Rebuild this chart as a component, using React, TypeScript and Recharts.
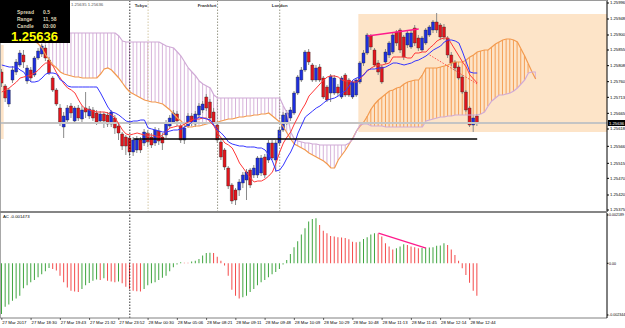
import React from "react";
import {
  Bar,
  Cell,
  ComposedChart,
  Line,
  ReferenceArea,
  ReferenceLine,
  XAxis,
  YAxis,
} from "recharts";

const FONT = "'Liberation Sans', Arial, sans-serif";

// candles, one per bar (131 bars)
const OPEN = [
  1.25789, 1.25747, 1.25693, 1.25765, 1.25789, 1.2581, 1.2584, 1.25762, 1.25795, 1.2578,
  1.25831, 1.25843, 1.25861, 1.25825, 1.25771, 1.25735, 1.25681, 1.25624, 1.25645, 1.25687,
  1.25642, 1.25681, 1.25648, 1.25681, 1.25657, 1.25675, 1.25666, 1.25642, 1.25663, 1.2566,
  1.25633, 1.25651, 1.25627, 1.25603, 1.25594, 1.25591, 1.25549, 1.25555, 1.25585, 1.25576,
  1.25606, 1.25594, 1.25576, 1.25612, 1.25594, 1.256, 1.25627, 1.25639, 1.25663, 1.25627,
  1.25585, 1.25627, 1.25657, 1.25633, 1.2566, 1.25675, 1.25714, 1.25699, 1.25669, 1.2563,
  1.25579, 1.25555, 1.25501, 1.2545, 1.25435, 1.25435, 1.25456, 1.25465, 1.25495, 1.2548,
  1.2548, 1.25486, 1.25534, 1.25525, 1.25576, 1.25525, 1.25576, 1.25615, 1.25636, 1.25651,
  1.25666, 1.25726, 1.25765, 1.25795, 1.25849, 1.2581, 1.25765, 1.25804, 1.25771, 1.25744,
  1.25726, 1.25726, 1.25744, 1.25714, 1.2578, 1.25765, 1.25714, 1.2572, 1.25759, 1.25816,
  1.25846, 1.25897, 1.25855, 1.25816, 1.25804, 1.25819, 1.2584, 1.25849, 1.25909, 1.25915,
  1.25894, 1.2587, 1.25864, 1.25921, 1.25891, 1.25855, 1.25876, 1.259, 1.25915, 1.25939,
  1.2593, 1.25924, 1.25891, 1.2584, 1.25819, 1.25804, 1.25774, 1.25729, 1.25681, 1.2563,
  1.25657,
];
const HIGH = [
  1.25798, 1.25753, 1.25741, 1.25807, 1.25828, 1.25855, 1.25855, 1.2581, 1.25804, 1.25837,
  1.25861, 1.25873, 1.2587, 1.25834, 1.25777, 1.25741, 1.25693, 1.25669, 1.2569, 1.25696,
  1.25687, 1.2569, 1.25687, 1.25729, 1.25687, 1.25684, 1.25675, 1.25672, 1.25669, 1.25669,
  1.25675, 1.2566, 1.25636, 1.25609, 1.256, 1.25597, 1.25594, 1.25597, 1.25594, 1.25618,
  1.25615, 1.25606, 1.25624, 1.25621, 1.25606, 1.25645, 1.2566, 1.25675, 1.25672, 1.25639,
  1.2563, 1.25666, 1.25666, 1.25672, 1.25696, 1.25702, 1.25723, 1.25708, 1.25681, 1.25639,
  1.25585, 1.25561, 1.25507, 1.25456, 1.25441, 1.25468, 1.25489, 1.25498, 1.25501, 1.2551,
  1.25537, 1.2554, 1.25543, 1.25585, 1.25585, 1.25585, 1.25624, 1.25669, 1.25675, 1.25684,
  1.25732, 1.2578, 1.25804, 1.25855, 1.25858, 1.25816, 1.2581, 1.25813, 1.25777, 1.2575,
  1.25783, 1.2578, 1.25753, 1.25777, 1.25786, 1.25771, 1.25765, 1.25771, 1.25822, 1.25855,
  1.25906, 1.25903, 1.25861, 1.25825, 1.2581, 1.25858, 1.25882, 1.25906, 1.25915, 1.25921,
  1.259, 1.25912, 1.25915, 1.2593, 1.259, 1.25897, 1.25921, 1.2593, 1.25945, 1.25966,
  1.25936, 1.25933, 1.25897, 1.25849, 1.25825, 1.2581, 1.2578, 1.25735, 1.25687, 1.2566,
  1.25663,
];
const LOW = [
  1.25744, 1.25699, 1.25684, 1.25756, 1.2578, 1.25804, 1.25801, 1.25753, 1.25759, 1.25774,
  1.25825, 1.25834, 1.25822, 1.2578, 1.25729, 1.25687, 1.25627, 1.25591, 1.25636, 1.25651,
  1.25633, 1.25642, 1.25639, 1.25651, 1.25648, 1.25642, 1.2563, 1.25633, 1.25621, 1.25624,
  1.25624, 1.25603, 1.25585, 1.25555, 1.2554, 1.25537, 1.25537, 1.25546, 1.25546, 1.25567,
  1.25564, 1.25561, 1.25567, 1.2557, 1.25555, 1.25591, 1.25621, 1.25633, 1.25627, 1.25576,
  1.25573, 1.25621, 1.25627, 1.25624, 1.25651, 1.25666, 1.25672, 1.25642, 1.2563, 1.25576,
  1.25525, 1.25495, 1.25438, 1.25393, 1.2539, 1.25417, 1.25441, 1.25405, 1.25441, 1.25471,
  1.25471, 1.25477, 1.25471, 1.25516, 1.25525, 1.25489, 1.25567, 1.25609, 1.2563, 1.25642,
  1.2566, 1.2572, 1.25759, 1.25789, 1.2581, 1.25759, 1.25759, 1.25759, 1.25708, 1.25699,
  1.25699, 1.2572, 1.25717, 1.25708, 1.25714, 1.25714, 1.25708, 1.25714, 1.25753, 1.25807,
  1.2584, 1.25855, 1.25804, 1.2578, 1.25753, 1.25813, 1.25831, 1.25843, 1.25867, 1.25846,
  1.25825, 1.25861, 1.25858, 1.25867, 1.25852, 1.25849, 1.2587, 1.25894, 1.25906, 1.25906,
  1.25885, 1.25885, 1.25831, 1.25807, 1.25792, 1.25765, 1.25723, 1.25669, 1.25624, 1.25609,
  1.25627,
];
const CLOSE = [
  1.25756, 1.25711, 1.25735, 1.25795, 1.25819, 1.25846, 1.25819, 1.25801, 1.25771, 1.25831,
  1.25852, 1.25867, 1.25831, 1.25786, 1.25735, 1.25693, 1.25639, 1.25657, 1.25681, 1.25666,
  1.25681, 1.25651, 1.25675, 1.25669, 1.25678, 1.25651, 1.25639, 1.25663, 1.25642, 1.25633,
  1.25669, 1.25621, 1.25606, 1.25567, 1.25567, 1.25549, 1.25585, 1.25588, 1.25555, 1.25609,
  1.25579, 1.2557, 1.25615, 1.25582, 1.25576, 1.25636, 1.25651, 1.25666, 1.25642, 1.25585,
  1.25621, 1.25657, 1.25636, 1.25663, 1.25687, 1.25693, 1.25681, 1.25651, 1.25639, 1.25585,
  1.25534, 1.25504, 1.25447, 1.25402, 1.25405, 1.25459, 1.2548, 1.25489, 1.2545, 1.25501,
  1.25531, 1.25531, 1.2548, 1.25576, 1.25531, 1.25576, 1.25615, 1.2566, 1.25666, 1.25675,
  1.25726, 1.25774, 1.25795, 1.25849, 1.25819, 1.25765, 1.25801, 1.25765, 1.25714, 1.25705,
  1.25777, 1.25771, 1.25726, 1.25771, 1.2572, 1.2572, 1.25759, 1.25765, 1.25816, 1.25846,
  1.259, 1.25864, 1.2581, 1.25789, 1.25759, 1.25849, 1.25876, 1.259, 1.25876, 1.25855,
  1.25834, 1.25906, 1.25906, 1.25876, 1.25861, 1.25891, 1.25915, 1.25924, 1.25939, 1.25915,
  1.25894, 1.25894, 1.2584, 1.25816, 1.25801, 1.25771, 1.25729, 1.25675, 1.2563, 1.25651,
  1.25636,
];

// ichimoku
const TENKAN = [
  1.25729, 1.25735, 1.25741, 1.2575, 1.25759, 1.25771, 1.25774, 1.25777, 1.2578, 1.25786,
  1.25795, 1.25807, 1.25816, 1.25816, 1.25807, 1.25786, 1.25771, 1.25753, 1.25741, 1.25735,
  1.25726, 1.25705, 1.25687, 1.25678, 1.25675, 1.25672, 1.25669, 1.25669, 1.25669, 1.25666,
  1.2566, 1.25651, 1.25633, 1.25615, 1.25603, 1.256, 1.25603, 1.25606, 1.25603, 1.256,
  1.256, 1.256, 1.25597, 1.25594, 1.256, 1.25612, 1.25621, 1.25624, 1.25627, 1.25627,
  1.25633, 1.25639, 1.25645, 1.25648, 1.25648, 1.25651, 1.25651, 1.25639, 1.25627, 1.25606,
  1.25591, 1.25576, 1.2557, 1.25561, 1.2554, 1.25516, 1.25501, 1.25486, 1.25471, 1.25459,
  1.25462, 1.25462, 1.25468, 1.25477, 1.25489, 1.25516, 1.25549, 1.25576, 1.25594, 1.25609,
  1.25633, 1.25654, 1.25675, 1.25693, 1.25717, 1.25729, 1.25741, 1.25753, 1.25765, 1.25774,
  1.25777, 1.25777, 1.25774, 1.25765, 1.25762, 1.25762, 1.25759, 1.25759, 1.25768, 1.25783,
  1.25792, 1.25801, 1.25807, 1.2581, 1.2581, 1.25813, 1.25816, 1.25834, 1.25834, 1.25834,
  1.25834, 1.25831, 1.25831, 1.25846, 1.25846, 1.25849, 1.25849, 1.25861, 1.2587, 1.25882,
  1.25888, 1.25891, 1.25891, 1.25873, 1.25855, 1.25837, 1.25819, 1.25804, 1.2578, 1.25768,
  1.25756,
];
const KIJUN = [
  1.2581, 1.25807, 1.25804, 1.25804, 1.25804, 1.25795, 1.25789, 1.25771, 1.25759, 1.25759,
  1.25762, 1.25771, 1.25783, 1.25786, 1.25786, 1.25783, 1.25765, 1.25759, 1.25747, 1.25744,
  1.25744, 1.25744, 1.25744, 1.25744, 1.25744, 1.25744, 1.25744, 1.25726, 1.25705, 1.25684,
  1.25669, 1.25666, 1.2566, 1.25651, 1.25642, 1.25639, 1.25642, 1.25642, 1.25645, 1.25645,
  1.25621, 1.25618, 1.25615, 1.25612, 1.25609, 1.25609, 1.25612, 1.25615, 1.25615, 1.25618,
  1.25624, 1.2563, 1.25639, 1.25648, 1.25654, 1.25651, 1.25648, 1.25645, 1.2563, 1.25615,
  1.25606, 1.25594, 1.25579, 1.25573, 1.2557, 1.25567, 1.25567, 1.25564, 1.25564, 1.25564,
  1.25561, 1.25561, 1.25555, 1.2554, 1.25522, 1.25492, 1.25495, 1.2551, 1.25531, 1.25549,
  1.25573, 1.25606, 1.2563, 1.25654, 1.25663, 1.25672, 1.25681, 1.25687, 1.25696, 1.25705,
  1.25708, 1.25711, 1.25717, 1.25726, 1.25732, 1.25747, 1.25765, 1.25771, 1.25774, 1.2578,
  1.25795, 1.25798, 1.25798, 1.25801, 1.25801, 1.25804, 1.2581, 1.25816, 1.25816, 1.25813,
  1.2581, 1.25813, 1.25816, 1.25822, 1.25825, 1.25831, 1.25837, 1.25846, 1.25855, 1.25861,
  1.25867, 1.25879, 1.25885, 1.25885, 1.25882, 1.25876, 1.25849, 1.25819, 1.25789, 1.25786,
  1.25786,
];
// senkou spans, shifted forward past the last bar
const SPAN_A = [
  1.2593, 1.2593, 1.25927, 1.25924, 1.25921, 1.25915, 1.25909, 1.259, 1.25891, 1.25882,
  1.25873, 1.25861, 1.2584, 1.25825, 1.2581, 1.25801, 1.25789, 1.25783, 1.2578, 1.25777,
  1.25774, 1.25774, 1.25771, 1.25771, 1.25771, 1.25771, 1.25771, 1.25783, 1.25798, 1.25801,
  1.25795, 1.25783, 1.25771, 1.25756, 1.25741, 1.25729, 1.25723, 1.25717, 1.25711, 1.25705,
  1.25702, 1.25699, 1.25699, 1.25696, 1.25693, 1.25684, 1.25675, 1.25663, 1.25651, 1.25642,
  1.2563, 1.25624, 1.25624, 1.25627, 1.25627, 1.2563, 1.25633, 1.25636, 1.25636, 1.25639,
  1.25642, 1.25645, 1.25648, 1.25648, 1.25651, 1.25654, 1.25654, 1.25657, 1.25657, 1.2566,
  1.2566, 1.25663, 1.25663, 1.25666, 1.25657, 1.25648, 1.25639, 1.25624, 1.25606, 1.25588,
  1.25573, 1.25567, 1.25561, 1.25555, 1.25546, 1.2554, 1.25534, 1.25528, 1.25522, 1.25513,
  1.25501, 1.25501, 1.25525, 1.2554, 1.25555, 1.25573, 1.25591, 1.25612, 1.25627, 1.25639,
  1.25657, 1.25678, 1.25693, 1.25705, 1.25714, 1.25723, 1.25732, 1.25735, 1.25741, 1.25744,
  1.25753, 1.25759, 1.25762, 1.25765, 1.25765, 1.2578, 1.25801, 1.25801, 1.25801, 1.25801,
  1.25804, 1.25807, 1.2581, 1.25816, 1.25819, 1.25819, 1.25819, 1.25825, 1.25834, 1.2584,
  1.25849, 1.25852, 1.25855, 1.25855, 1.25864, 1.25873, 1.25879, 1.25885, 1.25888, 1.25888,
  1.25885, 1.25879, 1.25858, 1.25837, 1.25813, 1.25789, 1.25768,
];
const SPAN_B = [
  1.25945, 1.25945, 1.25945, 1.25945, 1.25945, 1.25945, 1.25945, 1.25945, 1.25945, 1.25945,
  1.25945, 1.25906, 1.25906, 1.25906, 1.25906, 1.25906, 1.25906, 1.25906, 1.25906, 1.25906,
  1.25906, 1.25906, 1.25906, 1.25906, 1.25906, 1.25906, 1.25906, 1.25906, 1.25906, 1.25906,
  1.25906, 1.25906, 1.25897, 1.25882, 1.25879, 1.25879, 1.25879, 1.25879, 1.25879, 1.25879,
  1.25879, 1.25879, 1.25879, 1.25879, 1.25873, 1.25867, 1.25864, 1.25861, 1.25849, 1.25837,
  1.25819, 1.25801, 1.25789, 1.25777, 1.25762, 1.25753, 1.25747, 1.25741, 1.2572, 1.25711,
  1.25711, 1.25711, 1.25711, 1.25711, 1.25711, 1.25711, 1.25711, 1.25711, 1.25711, 1.25711,
  1.25711, 1.25711, 1.25711, 1.25711, 1.25711, 1.25711, 1.25711, 1.25687, 1.25666, 1.25609,
  1.25588, 1.25582, 1.25579, 1.25576, 1.25576, 1.25573, 1.25573, 1.2557, 1.2557, 1.2557,
  1.2557, 1.2557, 1.2557, 1.2557, 1.2557, 1.25576, 1.25588, 1.25612, 1.2563, 1.25633,
  1.25633, 1.25627, 1.25627, 1.25627, 1.25627, 1.25624, 1.25624, 1.25624, 1.25624, 1.25624,
  1.25624, 1.25624, 1.25624, 1.25624, 1.25624, 1.25624, 1.25642, 1.25645, 1.25648, 1.25651,
  1.25654, 1.25654, 1.25657, 1.25657, 1.2566, 1.2566, 1.2566, 1.2566, 1.2566, 1.2566,
  1.2566, 1.25663, 1.25669, 1.25687, 1.25702, 1.25711, 1.2572, 1.2572, 1.25723, 1.25726,
  1.25732, 1.25741, 1.25753, 1.25765, 1.25786, 1.25789, 1.25789,
];

// accelerator oscillator
const AC = [
  -0.0023, -0.00197, -0.00187, -0.0017, -0.0016, -0.00147, -0.00113, -0.001, -0.00086, -0.00076,
  -0.00063, -0.0005, -0.00036, -0.00021, -0.00026, -0.00033, -0.00056, -0.00086, -0.0011, -0.00124,
  -0.00128, -0.0013, -0.00116, -0.001, -0.00089, -0.00079, -0.00074, -0.00076, -0.00068, -0.00079,
  -0.00082, -0.00086, -0.00082, -0.0009, -0.00106, -0.00116, -0.00124, -0.00127, -0.00128, -0.00116,
  -0.001, -0.0009, -0.00086, -0.00076, -0.00066, -0.00056, -0.00036, -0.00018, -0.00006, 0.00005,
  0.00003, 0.00002, 0.00008, 0.00012, 0.0002, 0.00035, 0.00047, 0.00048, 0.00047, 0.0003,
  0.00012, -0.0001, -0.00056, -0.0012, -0.00147, -0.0016, -0.00154, -0.00147, -0.0013, -0.00116,
  -0.001, -0.00086, -0.00076, -0.00063, -0.0005, -0.0004, -0.00026, -0.00006, 0.00015, 0.00042,
  0.00073, 0.001, 0.00131, 0.00159, 0.00189, 0.00201, 0.00204, 0.00174, 0.00147, 0.00136,
  0.00124, 0.00121, 0.00118, 0.00117, 0.00115, 0.00109, 0.00098, 0.00095, 0.00098, 0.0011,
  0.00118, 0.00131, 0.00136, 0.00135, 0.00121, 0.00091, 0.00076, 0.00063, 0.00068, 0.00076,
  0.00086, 0.00083, 0.00076, 0.00073, 0.00068, 0.00069, 0.00071, 0.00072, 0.00073, 0.0008,
  0.00081, 0.00091, 0.00083, 0.00063, 0.00038, 0.00012, -0.00023, -0.00053, -0.00088, -0.00124,
  -0.001473,
];

const TIME_TICKS = [0, 8, 16, 24, 32, 40, 48, 56, 64, 72, 80, 88, 96, 104, 112, 120, 128];
const TIME_LABELS = [
  "27 Mar 2017", "27 Mar 18:30", "27 Mar 19:43", "27 Mar 21:32", "27 Mar 23:52",
  "28 Mar 00:30", "28 Mar 05:06", "28 Mar 08:21", "28 Mar 09:11", "28 Mar 09:48",
  "28 Mar 10:09", "28 Mar 10:29", "28 Mar 10:48", "28 Mar 11:13", "28 Mar 11:45",
  "28 Mar 12:14", "28 Mar 12:44",
];
const PRICE_TICKS = [
  1.25996, 1.25948, 1.259, 1.25855, 1.25808, 1.2576, 1.25713, 1.25665, 1.25618, 1.25566,
  1.25515, 1.2547, 1.2542, 1.25375,
];
const AC_TICKS = [0.002189, 0, -0.002344];
const BID = 1.25636;
const SLOTS = 166;

const rows = Array.from({ length: SLOTS }, (_, i) => ({
  i,
  open: OPEN[i] ?? null,
  high: HIGH[i] ?? null,
  low: LOW[i] ?? null,
  close: CLOSE[i] ?? null,
  tenkan: TENKAN[i] ?? null,
  kijun: KIJUN[i] ?? null,
  spanA: SPAN_A[i] ?? null,
  spanB: SPAN_B[i] ?? null,
  ac: AC[i] ?? null,
}));

const BULL = "#1d2ee0";
const BEAR = "#e3141c";

function TimeTick({ x, payload }: any) {
  const label = TIME_LABELS[TIME_TICKS.indexOf(payload.value)];
  return (
    <g>
      <line x1={x} x2={x} y1={105} y2={107} stroke="#000" strokeWidth={0.6} />
      <text x={x + 0.5} y={111} fontSize={4.3} fill="#000" fontFamily={FONT}>
        {label}
      </text>
    </g>
  );
}

function SessionLabel({ viewBox, text, anchor }: any) {
  if (!viewBox) return null;
  return (
    <text
      x={viewBox.x + (anchor === "end" ? -1 : 0)}
      y={7}
      textAnchor={anchor}
      fontSize={4.3}
      fontWeight="bold"
      fill="#333"
      fontFamily={FONT}
    >
      {text}
    </text>
  );
}

function PriceTag({ viewBox }: any) {
  if (!viewBox) return null;
  const x = viewBox.x + viewBox.width;
  return (
    <g>
      <rect x={x + 1} y={viewBox.y - 3} width={17} height={6} fill="#000" />
      <text x={x + 2} y={viewBox.y + 1.6} fontSize={4.2} fill="#fff" fontFamily={FONT}>
        {BID.toFixed(5)}
      </text>
    </g>
  );
}

export default function App() {
  const axisTick = { fontSize: 4.2, fill: "#000", fontFamily: FONT };
  const acTick = { fontSize: 3.6, fill: "#000", fontFamily: FONT };
  return (
    <div
      style={{
        position: "absolute",
        left: 0,
        top: 0,
        width: 625,
        height: 328,
        background: "#fff",
        overflow: "hidden",
        fontFamily: FONT,
      }}
    >
      <ComposedChart
        width={625}
        height={212}
        data={rows}
        margin={{ top: 0, right: 0, bottom: 0, left: 0 }}
      >
        <XAxis xAxisId="hatch" dataKey="i" hide />
        <XAxis xAxisId="wick" dataKey="i" hide />
        <XAxis xAxisId="body" dataKey="i" hide />
        <YAxis
          orientation="right"
          width={18}
          type="number"
          domain={[1.25369, 1.26005]}
          allowDataOverflow
          ticks={PRICE_TICKS}
          interval={0}
          tickFormatter={(v: number) => v.toFixed(5)}
          tick={axisTick}
          tickSize={2}
          tickMargin={1}
          axisLine={{ stroke: "#000" }}
          tickLine={{ stroke: "#000" }}
        />

        <ReferenceArea
          xAxisId="wick"
          x1={98}
          x2={165}
          y1={1.25609}
          y2={1.25963}
          fill="#fde4c8"
          fillOpacity={1}
          stroke="none"
        />
        <ReferenceArea
          xAxisId="wick"
          x1={0}
          x2={0}
          y1={1.25588}
          y2={1.2587}
          fill="#fde4c8"
          fillOpacity={1}
          stroke="none"
        />

        <ReferenceLine xAxisId="wick" x={35} stroke="#000" strokeDasharray="1.5 1.5" strokeWidth={0.8} />
        <ReferenceLine
          xAxisId="wick"
          x={40}
          stroke="#c9b98e"
          strokeDasharray="1.5 1.5"
          strokeWidth={0.8}
          label={<SessionLabel text="Tokyo" anchor="end" />}
        />
        <ReferenceLine
          xAxisId="wick"
          x={59}
          stroke="#7f7f6a"
          strokeDasharray="1.5 1.5"
          strokeWidth={0.8}
          label={<SessionLabel text="Frankfurt" anchor="end" />}
        />
        <ReferenceLine
          xAxisId="wick"
          x={76}
          stroke="#7f7f6a"
          strokeDasharray="1.5 1.5"
          strokeWidth={0.8}
          label={<SessionLabel text="London" anchor="middle" />}
        />

        <Bar
          xAxisId="hatch"
          dataKey={(d: any) =>
            d.spanA == null ? null : [Math.min(d.spanA, d.spanB), Math.max(d.spanA, d.spanB)]
          }
          barSize={1}
          isAnimationActive={false}
        >
          {rows.map((d) => (
            <Cell key={d.i} fill={d.spanA != null && d.spanA >= d.spanB ? "#f59f55" : "#d7b3da"} />
          ))}
        </Bar>
        <Line xAxisId="wick" dataKey="spanA" stroke="#f39a4e" strokeWidth={1.2} dot={false} isAnimationActive={false} />
        <Line xAxisId="wick" dataKey="spanB" stroke="#d0aad6" strokeWidth={1.2} dot={false} isAnimationActive={false} />

        <ReferenceLine xAxisId="wick" y={BID} stroke="#c4c4c4" strokeWidth={2} label={<PriceTag />} />

        <Bar
          xAxisId="wick"
          dataKey={(d: any) => (d.high == null ? null : [d.low, d.high])}
          barSize={1}
          fill="#8a8a8a"
          isAnimationActive={false}
        />
        <Bar
          xAxisId="body"
          dataKey={(d: any) =>
            d.open == null ? null : [Math.min(d.open, d.close), Math.max(d.open, d.close)]
          }
          barSize={3}
          stroke="#2a2a2a"
          strokeWidth={0.4}
          isAnimationActive={false}
        >
          {rows.map((d) => (
            <Cell key={d.i} fill={d.close != null && d.close >= d.open ? BULL : BEAR} />
          ))}
        </Bar>

        <Line xAxisId="wick" dataKey="tenkan" stroke="#ff3838" strokeWidth={1} dot={false} isAnimationActive={false} />
        <Line xAxisId="wick" dataKey="kijun" stroke="#3434ff" strokeWidth={1} dot={false} isAnimationActive={false} />

        <ReferenceLine
          xAxisId="wick"
          segment={[{ x: 36, y: 1.25588 }, { x: 130, y: 1.25588 }]}
          stroke="#000"
          strokeWidth={1.4}
        />
        <ReferenceLine
          xAxisId="wick"
          segment={[{ x: 100, y: 1.25897 }, { x: 114, y: 1.25918 }]}
          stroke="#ff1a8c"
          strokeWidth={1.3}
        />
        <ReferenceLine
          xAxisId="wick"
          segment={[{ x: 117, y: 1.2584 }, { x: 130, y: 1.25753 }]}
          stroke="#ff3030"
          strokeDasharray="1.5 1.5"
          strokeWidth={0.8}
        />
      </ComposedChart>

      <div style={{ position: "absolute", left: 0, top: 0, width: 607, height: 1, background: "#9a9a9a" }} />
      <div style={{ position: "absolute", left: 0, top: 0, width: 1, height: 318, background: "#a8a8a8" }} />
      <div style={{ position: "absolute", left: 0, top: 211, width: 607, height: 2, background: "#858585" }} />

      <div style={{ position: "absolute", left: 0, top: 213 }}>
        <ComposedChart
          width={625}
          height={115}
          data={rows}
          margin={{ top: 0, right: 0, bottom: 0, left: 0 }}
        >
          <XAxis
            dataKey="i"
            height={10}
            ticks={TIME_TICKS}
            interval={0}
            tick={<TimeTick />}
            tickLine={false}
            axisLine={{ stroke: "#808080" }}
          />
          <YAxis
            orientation="right"
            width={18}
            type="number"
            domain={[-0.00248, 0.00228]}
            allowDataOverflow
            ticks={AC_TICKS}
            interval={0}
            tickFormatter={(v: number) => (v === 0 ? "0.00" : v.toFixed(6))}
            tick={acTick}
            tickSize={1.5}
            tickMargin={0.5}
            axisLine={{ stroke: "#000" }}
            tickLine={{ stroke: "#000" }}
          />
          <ReferenceLine x={35} stroke="#000" strokeDasharray="1.5 1.5" strokeWidth={0.8} />
          <Bar dataKey="ac" barSize={1} isAnimationActive={false}>
            {rows.map((d, k) => (
              <Cell
                key={d.i}
                fill={k > 0 && d.ac != null && d.ac < (rows[k - 1].ac as number) ? "#f44a4a" : "#3fa53f"}
              />
            ))}
          </Bar>
          <ReferenceLine
            segment={[{ x: 103, y: 0.00137 }, { x: 116, y: 0.00069 }]}
            stroke="#ff1a8c"
            strokeWidth={1.2}
          />
        </ComposedChart>
      </div>

      <div
        style={{
          position: "absolute",
          left: 3,
          top: 214,
          fontSize: 4.3,
          lineHeight: "5px",
          color: "#000",
        }}
      >
        AC -0.001473
      </div>

      <div
        style={{
          position: "absolute",
          left: 71,
          top: 2,
          fontSize: 4.3,
          lineHeight: "5px",
          color: "#555",
        }}
      >
        1.25635 1.25636
      </div>

      <div
        style={{
          position: "absolute",
          left: 0,
          top: 0,
          width: 70,
          height: 43,
          background: "#000",
          color: "#ddd2b4",
          fontSize: 5,
          fontWeight: "bold",
          lineHeight: "6px",
        }}
      >
        <div style={{ position: "absolute", left: 17, top: 9 }}>Spread</div>
        <div style={{ position: "absolute", left: 43, top: 9 }}>0.5</div>
        <div style={{ position: "absolute", left: 17, top: 16 }}>Range</div>
        <div style={{ position: "absolute", left: 43, top: 16 }}>11, 58</div>
        <div style={{ position: "absolute", left: 17, top: 23 }}>Candle</div>
        <div style={{ position: "absolute", left: 43, top: 23 }}>03:00</div>
        <div
          style={{
            position: "absolute",
            left: 11,
            top: 30,
            fontSize: 13,
            lineHeight: "13px",
            color: "#ffff00",
          }}
        >
          1.25636
        </div>
      </div>
    </div>
  );
}
